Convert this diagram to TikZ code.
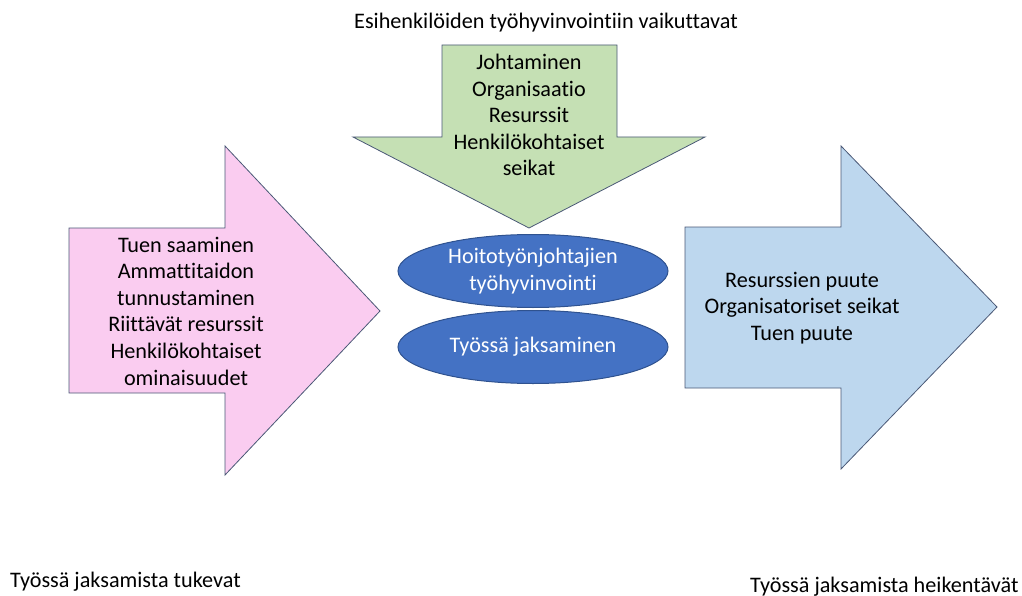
\documentclass[tikz,border=0pt]{standalone}
\usepackage{fontspec}
\setmainfont[Ligatures=NoCommon]{Carlito}
\usetikzlibrary{shapes.geometric}

\definecolor{pinkfill}{HTML}{FACCF0}
\definecolor{greenfill}{HTML}{C5E0B4}
\definecolor{bluefill}{HTML}{BDD7EE}
\definecolor{ovalfill}{HTML}{4472C4}
\definecolor{ovalline}{HTML}{2F528F}
\definecolor{arrowline}{HTML}{4A5876}

\newcommand*{\txtsize}{\fontsize{22.2}{26.6}\selectfont}

\begin{document}
\begin{tikzpicture}
[
	x=1pt,y=-1pt,
	bigarrow/.style={draw=arrowline,line width=0.8pt,line join=miter},
	txt/.style={align=center,inner sep=0pt,font=\txtsize},
	oval/.style={ellipse,draw=ovalline,fill=ovalfill,line width=1pt,inner sep=0pt,
		minimum width=270pt,minimum height=73pt,text=white,align=center,font=\txtsize},
]

	\useasboundingbox (0,0) rectangle (1022,596);

	% arrows
	\draw[bigarrow,fill=pinkfill] (69,228) -- (225,228) -- (225,146) -- (380,311)
		-- (225,475) -- (225,393) -- (69,393) -- cycle;
	\draw[bigarrow,fill=greenfill] (442,45) -- (617,45) -- (617,137) -- (705,137)
		-- (529,228) -- (353,137) -- (442,137) -- cycle;
	\draw[bigarrow,fill=bluefill] (685,227) -- (841,227) -- (841,146) -- (997,307)
		-- (841,469) -- (841,388) -- (685,388) -- cycle;

	% arrow texts
	\node[txt] (tukevat) at (186,311) {Tuen saaminen\\Ammattitaidon\\tunnustaminen\\Riittävät resurssit\\Henkilökohtaiset\\ominaisuudet};
	\node[txt] (vaikuttavat) at (529,115) {Johtaminen\\Organisaatio\\Resurssit\\Henkilökohtaiset\\seikat};
	\node[txt] (heikentavat) at (802,308) {Resurssien puute\\Organisatoriset seikat\\Tuen puute};

	% ellipses
	\node[oval] (hyvinvointi) at (533,271) {Hoitotyönjohtajien\\työhyvinvointi};
	\node[oval] (jaksaminen) at (533,347) {Työssä jaksaminen};

	% headings
	\node[txt,anchor=base] (otsikko) at (546,29) {Esihenkilöiden työhyvinvointiin vaikuttavat};
	\node[txt,anchor=base west] (vasen) at (10,587) {Työssä jaksamista tukevat};
	\node[txt,anchor=base west] (oikea) at (750,592) {Työssä jaksamista heikentävät};

\end{tikzpicture}
\end{document}
